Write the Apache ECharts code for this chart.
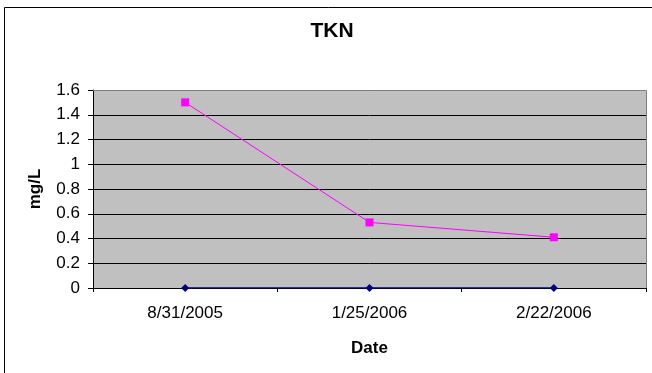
<!DOCTYPE html>
<html>
<head>
<meta charset="utf-8">
<script src="https://cdn.jsdelivr.net/npm/echarts@6/dist/echarts.min.js"></script>
<style>
html,body{margin:0;padding:0;background:#fff;}
#c{width:652px;height:373px;}
</style>
</head>
<body>
<div id="c"></div>
<script>
const categories = ['8/31/2005', '1/25/2006', '2/22/2006'];
const tknValues = [1.5, 0.53, 0.41];
const baseValues = [0, 0, 0];
const yTicks = { min: 0, max: 1.6, interval: 0.2 };

const FONT = '"Liberation Sans", Arial, sans-serif';
const chart = echarts.init(document.getElementById('c'), null, { renderer: 'canvas' });
chart.setOption({
  animation: false,
  backgroundColor: '#ffffff',
  title: {
    text: 'TKN',
    left: 332,
    textAlign: 'center',
    top: 21,
    padding: 0,
    textStyle: { fontFamily: FONT, fontSize: 21, fontWeight: 'bold', color: '#000' }
  },
  graphic: [{
    type: 'rect',
    shape: { x: 4.5, y: 7.5, width: 700, height: 400 },
    style: { fill: 'none', stroke: '#000', lineWidth: 1 },
    silent: true, z: -10
  }, {
    type: 'polyline',
    shape: { points: [[93, 90.5], [646.5, 90.5], [646.5, 288]] },
    style: { fill: 'none', stroke: '#808080', lineWidth: 1 },
    silent: true, z: 10
  }],
  grid: {
    left: 93, right: 6, top: 90, bottom: 85,
    show: true, backgroundColor: '#c0c0c0', borderWidth: 0
  },
  xAxis: {
    type: 'category',
    data: categories,
    boundaryGap: true,
    name: 'Date',
    nameLocation: 'middle',
    nameGap: 52,
    nameTextStyle: { fontFamily: FONT, fontSize: 17, fontWeight: 'bold', color: '#000' },
    axisLine: { show: true, lineStyle: { color: '#000', width: 1 } },
    axisTick: { show: true, alignWithLabel: false, length: 4, lineStyle: { color: '#000' } },
    axisLabel: { fontFamily: FONT, fontSize: 17, color: '#000', margin: 17 },
    splitLine: { show: false }
  },
  yAxis: {
    type: 'value',
    min: yTicks.min, max: yTicks.max, interval: yTicks.interval,
    name: 'mg/L',
    nameLocation: 'middle',
    nameRotate: 90,
    nameGap: 49,
    nameTextStyle: { fontFamily: FONT, fontSize: 17, fontWeight: 'bold', color: '#000' },
    axisLine: { show: true, lineStyle: { color: '#000', width: 1 } },
    axisTick: { show: true, length: 5, lineStyle: { color: '#000' } },
    axisLabel: { fontFamily: FONT, fontSize: 17, color: '#000', margin: 13 },
    splitLine: { show: true, lineStyle: { color: '#000', width: 1 } }
  },
  series: [{
    name: 'Base',
    type: 'line',
    data: baseValues,
    symbol: 'diamond',
    symbolSize: 8,
    lineStyle: { color: '#000080', width: 1.5 },
    itemStyle: { color: '#000080' },
    z: 3
  }, {
    name: 'TKN',
    type: 'line',
    data: tknValues,
    symbol: 'rect',
    symbolSize: 8,
    lineStyle: { color: '#ff00ff', width: 1 },
    itemStyle: { color: '#ff00ff' },
    z: 4
  }]
});
</script>
</body>
</html>
